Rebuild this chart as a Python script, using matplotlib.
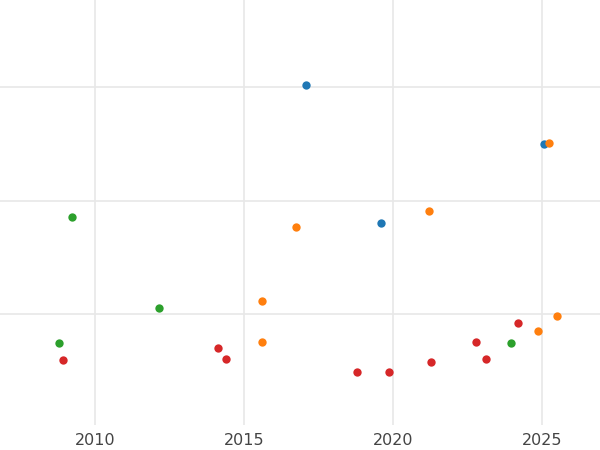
import matplotlib
matplotlib.use("Agg")
import matplotlib.pyplot as plt

blue_x = [2017.08, 2025.07, 2019.6]
blue_y = [3.02, 2.50, 1.80]
orange_x = [2025.23, 2021.2, 2016.74, 2015.6, 2015.6, 2024.86, 2025.5]
orange_y = [2.51, 1.91, 1.77, 1.11, 0.75, 0.85, 0.98]
green_x = [2009.23, 2012.15, 2008.79, 2023.96]
green_y = [1.85, 1.05, 0.74, 0.74]
red_x = [2008.93, 2014.13, 2014.4, 2018.8, 2019.87, 2021.28, 2022.8, 2023.13, 2024.2]
red_y = [0.59, 0.70, 0.60, 0.49, 0.49, 0.57, 0.75, 0.60, 0.92]
xticks = [2010, 2015, 2020, 2025]
yticks = [1, 2, 3]

fig = plt.figure(figsize=(6, 4.5), dpi=100)
ax = fig.add_axes([0, 0.056, 1, 0.944])
for xs, ys, c in [(blue_x, blue_y, "#1f77b4"), (orange_x, orange_y, "#ff7f0e"),
                  (green_x, green_y, "#2ca02c"), (red_x, red_y, "#d62728")]:
    ax.scatter(xs, ys, color=c, s=36, zorder=3, linewidths=0)
ax.set_xlim(2006.81, 2026.95)
ax.set_ylim(0.02, 3.77)
ax.set_xticks(xticks)
ax.set_yticks(yticks)
ax.set_yticklabels([])
ax.grid(True, color="#e8e8e8", linewidth=1.2)
ax.set_axisbelow(True)
for s in ax.spines.values():
    s.set_visible(False)
ax.tick_params(length=0, labelsize=11.5, labelcolor="#444444", pad=6)
fig.savefig("out.png", dpi=100)
